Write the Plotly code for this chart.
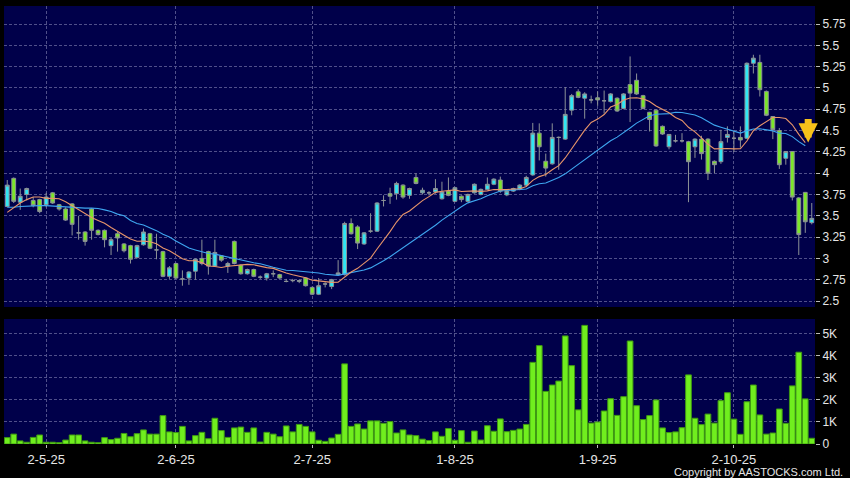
import plotly.graph_objects as go
import pandas as pd

# ---------------- data ----------------
opens = [3.61, 3.94, 3.66, 3.75, 3.68, 3.69, 3.63, 3.77, 3.63, 3.58,
         3.64, 3.30, 3.31, 3.58, 3.33, 3.33, 3.15, 3.29, 3.17, 3.15,
         3.01, 3.16, 3.29, 3.10, 3.08, 2.79, 2.94, 2.76, 2.77, 2.85,
         3.00, 3.08, 2.91, 3.03, 2.91, 3.20, 2.92, 2.82, 2.87, 2.78,
         2.77, 2.82, 2.81, 2.73, 2.74, 2.73, 2.77, 2.66, 2.58, 2.70,
         2.67, 2.81, 2.81, 3.41, 3.37, 3.17, 3.32, 3.32, 3.68, 3.76,
         3.76, 3.86, 3.74, 3.95, 3.77, 3.77, 3.78, 3.70, 3.79, 3.67,
         3.73, 3.67, 3.77, 3.75, 3.81, 3.87, 3.92, 3.745, 3.79, 3.815,
         3.86, 3.98, 4.47, 4.14, 4.11, 4.42, 4.40, 4.74, 4.955, 4.88,
         4.86, 4.885, 4.85, 4.84, 4.88, 4.76, 5.04, 5.09, 4.91, 4.715,
         4.74, 4.55, 4.31, 4.38, 4.38, 4.37, 4.31, 4.40, 4.40, 4.14,
         4.135, 4.42, 4.41, 4.42, 4.41, 5.29, 5.30, 4.96, 4.665, 4.50,
         4.175, 4.255, 3.71, 3.775, 3.42]
highs = [3.92, 3.95, 3.82, 3.83, 3.72, 3.70, 3.77, 3.78, 3.64, 3.60,
         3.65, 3.50, 3.32, 3.59, 3.34, 3.34, 3.24, 3.31, 3.18, 3.16,
         3.16, 3.35, 3.30, 3.29, 3.09, 2.91, 2.95, 2.86, 2.85, 3.00,
         3.22, 3.09, 3.22, 3.04, 2.96, 3.21, 2.93, 2.88, 2.88, 2.80,
         2.83, 2.86, 2.82, 2.76, 2.76, 2.75, 2.78, 2.67, 2.77, 2.72,
         2.76, 2.98, 3.43, 3.47, 3.39, 3.31, 3.53, 3.66, 3.74, 3.83,
         3.90, 3.87, 3.83, 4.00, 3.83, 3.79, 3.93, 3.90, 3.95, 3.84,
         3.74, 3.76, 3.88, 3.82, 3.95, 3.94, 3.96, 3.80, 3.83, 3.87,
         3.97, 4.59, 4.585, 4.23, 4.585, 4.43, 5.01, 4.93, 4.985, 4.95,
         4.91, 4.96, 4.97, 4.94, 4.89, 4.94, 5.37, 5.17, 4.92, 4.72,
         4.75, 4.56, 4.46, 4.45, 4.47, 4.38, 4.41, 4.44, 4.41, 4.15,
         4.51, 4.55, 4.50, 4.55, 5.30, 5.39, 5.39, 4.97, 4.67, 4.53,
         4.26, 4.26, 3.72, 3.78, 3.65]
lows = [3.60, 3.65, 3.57, 3.68, 3.60, 3.53, 3.60, 3.64, 3.56, 3.44,
        3.27, 3.22, 3.15, 3.22, 3.27, 3.13, 3.04, 3.08, 3.07, 2.94,
        3.00, 3.15, 3.11, 2.99, 2.78, 2.76, 2.76, 2.68, 2.69, 2.75,
        2.92, 2.81, 2.90, 2.96, 2.83, 2.93, 2.81, 2.81, 2.78, 2.76,
        2.74, 2.78, 2.76, 2.72, 2.72, 2.71, 2.67, 2.57, 2.57, 2.66,
        2.64, 2.80, 2.80, 3.28, 3.11, 3.16, 3.30, 3.31, 3.61, 3.64,
        3.69, 3.70, 3.70, 3.87, 3.75, 3.74, 3.76, 3.69, 3.73, 3.66,
        3.66, 3.66, 3.76, 3.74, 3.80, 3.86, 3.77, 3.73, 3.78, 3.80,
        3.85, 3.97, 4.15, 3.96, 4.10, 4.04, 4.39, 4.68, 4.88, 4.64,
        4.82, 4.79, 4.70, 4.83, 4.72, 4.75, 4.60, 4.92, 4.75, 4.49,
        4.31, 4.45, 4.28, 4.36, 4.36, 3.66, 4.18, 4.16, 3.92, 4.00,
        4.11, 4.36, 4.25, 4.30, 4.40, 5.17, 4.90, 4.67, 4.40, 4.05,
        4.10, 3.68, 3.04, 3.30, 3.40]
closes = [3.86, 3.67, 3.73, 3.82, 3.62, 3.55, 3.72, 3.65, 3.58, 3.45,
          3.40, 3.30, 3.20, 3.33, 3.28, 3.22, 3.22, 3.24, 3.09, 2.99,
          3.15, 3.31, 3.12, 3.10, 2.79, 2.89, 2.77, 2.76, 2.84, 2.99,
          2.94, 2.91, 3.07, 2.98, 2.94, 2.94, 2.82, 2.87, 2.79, 2.78,
          2.82, 2.82, 2.77, 2.73, 2.74, 2.74, 2.68, 2.58, 2.68, 2.70,
          2.75, 2.83, 3.41, 3.29, 3.18, 3.30, 3.32, 3.65, 3.68, 3.73,
          3.88, 3.72, 3.82, 3.88, 3.80, 3.77, 3.82, 3.78, 3.74, 3.83,
          3.69, 3.75, 3.87, 3.81, 3.87, 3.93, 3.79, 3.79, 3.82, 3.86,
          3.95, 4.47, 4.31, 4.06, 4.42, 4.42, 4.69, 4.91, 4.89, 4.93,
          4.86, 4.86, 4.85, 4.93, 4.73, 4.93, 4.94, 4.93, 4.76, 4.63,
          4.32, 4.46, 4.455, 4.38, 4.38, 4.135, 4.40, 4.23, 4.00, 4.10,
          4.37, 4.455, 4.41, 4.39, 5.29, 5.35, 4.98, 4.68, 4.51, 4.10,
          4.255, 3.72, 3.28, 3.43, 3.47]
volume_k = [0.29, 0.45, 0.14, 0.08, 0.30, 0.41, 0.08, 0.08, 0.06, 0.18,
            0.41, 0.41, 0.14, 0.08, 0.06, 0.29, 0.20, 0.26, 0.48, 0.33,
            0.47, 0.64, 0.45, 0.45, 1.29, 0.55, 0.52, 0.80, 0.14, 0.38,
            0.53, 0.24, 1.17, 0.61, 0.30, 0.73, 0.77, 0.53, 0.73, 0.09,
            0.53, 0.45, 0.33, 0.82, 0.55, 0.89, 0.80, 0.55, 0.17, 0.12,
            0.27, 0.44, 3.64, 0.80, 0.91, 0.68, 1.05, 1.05, 0.94, 1.02,
            0.50, 0.64, 0.41, 0.38, 0.22, 0.16, 0.55, 0.35, 0.70, 0.17,
            0.61, 0.08, 0.59, 0.18, 0.83, 0.58, 1.14, 0.56, 0.62, 0.68,
            0.89, 3.71, 4.47, 2.39, 2.68, 2.86, 4.91, 3.56, 1.55, 5.39,
            0.95, 1.00, 1.50, 2.06, 1.30, 2.15, 4.68, 1.74, 1.11, 1.29,
            2.00, 0.73, 0.52, 0.55, 0.74, 3.14, 1.17, 0.88, 1.36, 0.95,
            1.97, 2.33, 1.13, 0.44, 1.92, 2.68, 1.32, 0.45, 0.50, 1.59,
            0.94, 2.64, 4.17, 2.05, 0.26]
# moving-average values at the left edge (history before the first bar)
ma10_head = [3.54, 3.60, 3.65, 3.69, 3.72, 3.72, 3.705, 3.705, 3.70]
ma20_head = [3.60, 3.60, 3.61, 3.615, 3.62, 3.62, 3.62, 3.615, 3.61, 3.60,
             3.60, 3.595, 3.59, 3.59, 3.585, 3.57, 3.55, 3.52, 3.50]

date_tick_idx = [6, 26, 47, 69, 91, 112]
date_tick_labels = ["2-5-25", "2-6-25", "2-7-25", "1-8-25", "1-9-25", "2-10-25"]
price_ticks = [2.5, 2.75, 3, 3.25, 3.5, 3.75, 4, 4.25, 4.5, 4.75, 5, 5.25, 5.5, 5.75]
price_tick_text = ["2.5", "2.75", "3", "3.25", "3.5", "3.75", "4", "4.25",
                   "4.5", "4.75", "5", "5.25", "5.5", "5.75"]
vol_ticks = [0, 1, 2, 3, 4, 5]
vol_tick_text = ["0", "1K", "2K", "3K", "4K", "5K"]

# ---------------- derived ----------------
n = len(closes)
xi = list(range(n))
cs = pd.Series(closes)
ma10 = cs.rolling(10).mean().tolist()
ma20 = cs.rolling(20).mean().tolist()
ma10[:len(ma10_head)] = ma10_head
ma20[:len(ma20_head)] = ma20_head
ma10[-1] = None  # lines stop before the last (live) bar
ma20[-1] = None

NAVY = "#00004a"
GRID = "#50508a"
TXT = "#e6e6e6"
FONT = "Liberation Sans"

fig = go.Figure()
fig.add_trace(go.Candlestick(
    x=xi, open=opens, high=highs, low=lows, close=closes,
    increasing=dict(fillcolor="#30e6f4", line=dict(color="#8c9296", width=1)),
    decreasing=dict(fillcolor="#7ce62a", line=dict(color="#8c9296", width=1)),
    whiskerwidth=0, xaxis="x", yaxis="y", showlegend=False, hoverinfo="skip"))
fig.add_trace(go.Scatter(x=xi, y=ma20, mode="lines", line=dict(color="#3ea6f0", width=1.1),
                         xaxis="x", yaxis="y", showlegend=False, hoverinfo="skip"))
fig.add_trace(go.Scatter(x=xi, y=ma10, mode="lines", line=dict(color="#e8956a", width=1.1),
                         xaxis="x", yaxis="y", showlegend=False, hoverinfo="skip"))
fig.add_trace(go.Bar(x=xi, y=volume_k, marker=dict(color="#70ee1e", line=dict(color="#3f9a12", width=1)),
                     xaxis="x2", yaxis="y2", showlegend=False, hoverinfo="skip"))

H_PLOT = 478 - 6 - 34
price_bottom = (444 - 307) / H_PLOT
vol_top = (444 - 319) / H_PLOT

xcommon = dict(range=[-0.5, n - 0.5], tickmode="array", tickvals=date_tick_idx,
               showgrid=True, gridcolor=GRID, griddash="3px,2px", gridwidth=1,
               zeroline=False, showline=False, fixedrange=True)

fig.update_layout(
    width=850, height=478,
    margin=dict(l=4, r=35, t=6, b=34, autoexpand=False),
    paper_bgcolor="black", plot_bgcolor=NAVY,
    boxgap=0.16, bargap=0.12,
    font=dict(family=FONT, color=TXT, size=12),
    xaxis=dict(**xcommon, anchor="y", domain=[0, 1], showticklabels=False, ticks="",
               rangeslider=dict(visible=False)),
    xaxis2=dict(**xcommon, anchor="y2", domain=[0, 1], ticktext=date_tick_labels,
                ticks="outside", ticklen=3, tickcolor="#bbbbbb",
                tickfont=dict(family=FONT, size=13, color=TXT)),
    yaxis=dict(domain=[price_bottom, 1], range=[2.43, 5.962], side="right",
               tickmode="array", tickvals=price_ticks, ticktext=price_tick_text,
               ticks="outside", ticklen=4, tickcolor="#bbbbbb",
               tickfont=dict(family=FONT, size=12, color=TXT),
               showgrid=True, gridcolor=GRID, griddash="3px,2px", gridwidth=1,
               zeroline=False, fixedrange=True),
    yaxis2=dict(domain=[0, vol_top], range=[0, 5.68], side="right",
                tickmode="array", tickvals=vol_ticks, ticktext=vol_tick_text,
                ticks="outside", ticklen=4, tickcolor="#bbbbbb",
                tickfont=dict(family=FONT, size=12, color=TXT),
                showgrid=True, gridcolor=GRID, griddash="3px,2px", gridwidth=1,
                zeroline=False, fixedrange=True),
    annotations=[
        dict(x=n - 1.55, y=ma10[-2], xref="x", yref="y", showarrow=True, text="",
             ax=0, ay=-25, arrowhead=2, arrowsize=0.55, arrowwidth=7, arrowcolor="#f7c21a"),
        dict(x=(845 - 4) / 811, y=(444 - 472) / H_PLOT, xref="paper", yref="paper",
             xanchor="right", yanchor="middle", showarrow=False,
             text="Copyright by AASTOCKS.com Ltd.",
             font=dict(family=FONT, size=11, color=TXT)),
    ],
)

fig.write_html("out.html", config={"displayModeBar": False},
               post_script="document.body.style.margin='0px';")
